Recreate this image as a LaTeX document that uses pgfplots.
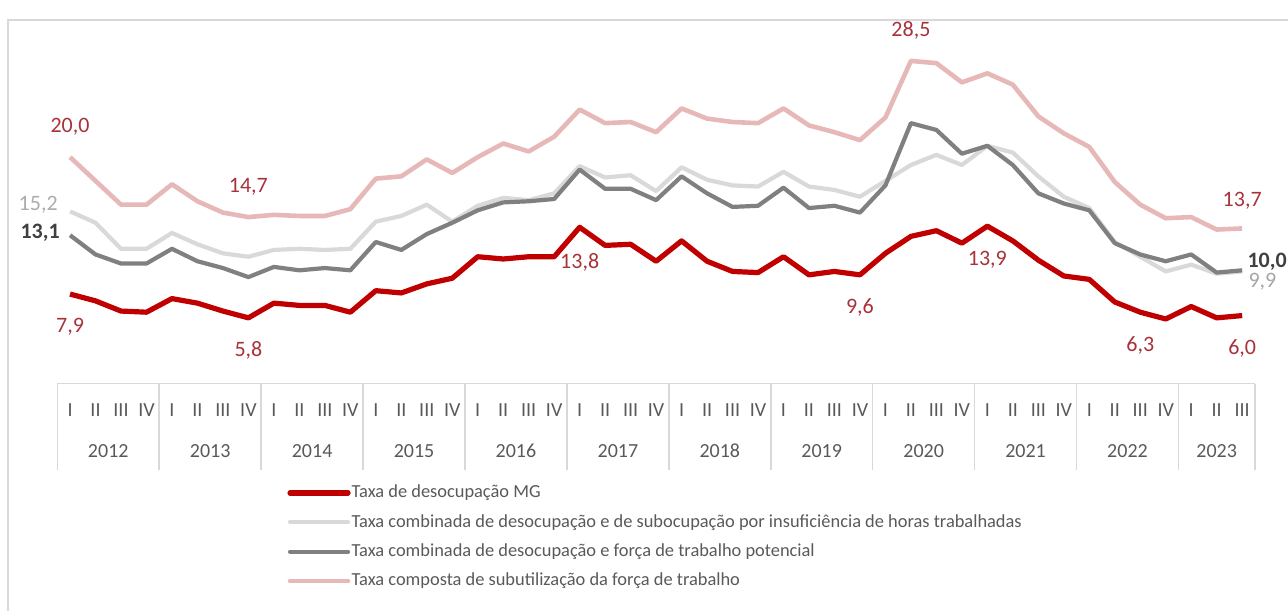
\documentclass[border=0pt]{standalone}
\usepackage{pgfplots}
\pgfplotsset{compat=1.18}
\usepackage{pgfplotstable}
\usepackage{fontspec}
\setmainfont{Carlito}

\definecolor{cRed}{HTML}{C00000}
\definecolor{cLight}{HTML}{D9D9D9}
\definecolor{cDark}{HTML}{808080}
\definecolor{cPink}{HTML}{E6B9B8}
\definecolor{cLbl}{HTML}{A8323A}
\definecolor{cTxt}{HTML}{595959}
\definecolor{cGrid}{HTML}{D9D9D9}

% i = trimestre (0 = 2012 I ... 46 = 2023 III)
\pgfplotstableread{
i des sub pot comp
0 7.9 15.2 13.1 20.0
1 7.3 14.2 11.4 17.9
2 6.4 11.9 10.6 15.8
3 6.3 11.9 10.6 15.8
4 7.5 13.3 11.9 17.6
5 7.1 12.3 10.8 16.1
6 6.4 11.5 10.2 15.1
7 5.8 11.2 9.4 14.7
8 7.1 11.8 10.3 14.9
9 6.9 11.9 10.0 14.8
10 6.9 11.8 10.2 14.8
11 6.3 11.9 10.0 15.4
12 8.2 14.3 12.5 18.1
13 8.0 14.8 11.8 18.3
14 8.8 15.8 13.2 19.8
15 9.3 14.3 14.2 18.6
16 11.2 15.7 15.3 20.0
17 11.0 16.4 16.0 21.2
18 11.2 16.2 16.1 20.5
19 11.2 16.8 16.3 21.8
20 13.8 19.2 18.9 24.2
21 12.2 18.2 17.2 23.0
22 12.3 18.4 17.2 23.1
23 10.8 17.0 16.2 22.2
24 12.6 19.1 18.3 24.3
25 10.8 18.0 16.8 23.4
26 9.9 17.5 15.6 23.1
27 9.8 17.4 15.7 23.0
28 11.2 18.7 17.3 24.3
29 9.6 17.4 15.5 22.8
30 9.9 17.1 15.7 22.2
31 9.6 16.5 15.1 21.5
32 11.5 17.9 17.5 23.5
33 13.0 19.3 23.0 28.5
34 13.5 20.2 22.4 28.3
35 12.4 19.3 20.3 26.6
36 13.9 21.0 21.0 27.4
37 12.6 20.4 19.3 26.4
38 10.9 18.3 16.8 23.6
39 9.5 16.5 15.9 22.1
40 9.2 15.5 15.3 20.9
41 7.2 12.5 12.4 17.8
42 6.3 11.2 11.4 15.8
43 5.7 9.9 10.8 14.6
44 6.8 10.5 11.4 14.7
45 5.8 9.7 9.8 13.6
46 6.0 9.9 10.0 13.7
}\dados

\begin{document}
\begin{tikzpicture}
\useasboundingbox (0,0) rectangle (644pt,-305.5pt);
\draw[cGrid, line width=0.75pt] (4pt,-305.5pt) -- (4pt,-10pt) -- (644pt,-10pt);
\begin{axis}[
    at={(28.65pt,-191.75pt)}, anchor=south west,
    scale only axis, width=598.8pt, height=169.8pt,
    xmin=-0.5, xmax=46.5, ymin=0, ymax=30,
    axis x line=bottom, axis y line=none,
    x axis line style={draw=cGrid, line width=0.75pt, -},
    xtick={0,...,46},
    xticklabels={I,II,III,IV,I,II,III,IV,I,II,III,IV,I,II,III,IV,I,II,III,IV,I,II,III,IV,
                 I,II,III,IV,I,II,III,IV,I,II,III,IV,I,II,III,IV,I,II,III,IV,I,II,III},
    major tick length=0pt,
    minor xtick={-0.5,3.5,7.5,11.5,15.5,19.5,23.5,27.5,31.5,35.5,39.5,43.5,46.5},
    minor tick length=43.25pt,
    tick align=outside,
    minor tick style={draw=cGrid, line width=0.75pt},
    x tick label style={font=\fontsize{10}{12}\selectfont, text=cTxt, anchor=center, yshift=-13.25pt},
    extra x ticks={1.5,5.5,9.5,13.5,17.5,21.5,25.5,29.5,33.5,37.5,41.5,45},
    extra x tick labels={2012,2013,2014,2015,2016,2017,2018,2019,2020,2021,2022,2023},
    extra x tick style={major tick length=0pt, x tick label style={yshift=-20.5pt}},
    clip=false,
    legend cell align=left,
    legend style={at={(0.1868,-0.2830)}, anchor=north west, draw=none, fill=none,
        font=\fontsize{9.2}{11}\selectfont, text=cTxt, row sep=5.8pt,
        nodes={inner sep=0.5pt}},
    legend image code/.code={\draw[#1, line cap=round] (0pt,0pt) -- (29pt,0pt);},
    every axis plot/.append style={line join=round},
]
\addplot[cRed, line width=2.6pt] table[x=i, y=des]{\dados};
\addlegendentry{Taxa de desocupação MG}
\addplot[cLight, line width=2.1pt] table[x=i, y=sub]{\dados};
\addlegendentry{Taxa combinada de desocupação e de subocupação por insuficiência de horas trabalhadas}
\addplot[cDark, line width=2.1pt] table[x=i, y=pot]{\dados};
\addlegendentry{Taxa combinada de desocupação e força de trabalho potencial}
\addplot[cPink, line width=2.3pt] table[x=i, y=comp]{\dados};
\addlegendentry{Taxa composta de subutilização da força de trabalho}

\tikzset{lbl/.style={font=\fontsize{11}{13}\selectfont, text=cLbl, inner sep=0pt}}
\node[lbl, yshift=15pt] at (axis cs:0,20.0) {20,0};
\node[lbl, yshift=15pt] at (axis cs:7,14.7) {14,7};
\node[lbl, yshift=15pt] at (axis cs:33,28.5) {28,5};
\node[lbl, yshift=14pt] at (axis cs:46,13.7) {13,7};
\node[lbl, yshift=-16.5pt] at (axis cs:0,7.9) {7,9};
\node[lbl, yshift=-16.5pt] at (axis cs:7,5.8) {5,8};
\node[lbl, yshift=-17.5pt] at (axis cs:20,13.8) {13,8};
\node[lbl, yshift=-17pt] at (axis cs:36,13.9) {13,9};
\node[lbl, yshift=-16.5pt] at (axis cs:31,9.6) {9,6};
\node[lbl, yshift=-16.5pt] at (axis cs:42,6.3) {6,3};
\node[lbl, yshift=-16.5pt] at (axis cs:46,6.0) {6,0};
\node[lbl, text=gray!65, anchor=east, xshift=-6pt, yshift=3.3pt] at (axis cs:0,15.2) {15,2};
\node[lbl, text=black!75, font=\fontsize{11}{13}\selectfont\bfseries, anchor=east, xshift=-5pt, yshift=1pt] at (axis cs:0,13.1) {13,1};
\node[lbl, text=black!75, font=\fontsize{11}{13}\selectfont\bfseries, anchor=west, xshift=2.5pt, yshift=4.5pt] at (axis cs:46,10.0) {10,0};
\node[lbl, text=gray!70, anchor=west, xshift=3pt, yshift=-5pt] at (axis cs:46,9.9) {9,9};
\end{axis}
\end{tikzpicture}
\end{document}
